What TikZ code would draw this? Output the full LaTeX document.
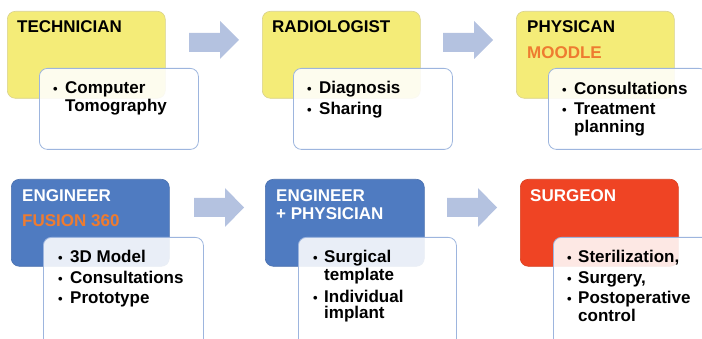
\documentclass[tikz,border=0pt]{standalone}
\usepackage{fontspec}
\setmainfont{Liberation Sans}
\definecolor{ybox}{HTML}{F4EC78}
\definecolor{yedge}{HTML}{D8D18C}
\definecolor{bbox}{HTML}{4F7BC1}
\definecolor{bedge}{HTML}{4A70AE}
\definecolor{rbox}{HTML}{EF4424}
\definecolor{redge}{HTML}{D8401F}
\definecolor{otext}{HTML}{EE7B30}
\definecolor{arr}{HTML}{B4C2E0}
\definecolor{cedge}{HTML}{9DB5DE}
\begin{document}
\begin{tikzpicture}[x=1pt,y=-1pt,
  rolebox/.style={anchor=north west, rounded corners=8pt, minimum height=87pt, line width=0.6pt, inner sep=0pt},
  yrole/.style={rolebox, fill=ybox, draw=yedge},
  brole/.style={rolebox, fill=bbox, draw=bedge},
  rrole/.style={rolebox, fill=rbox, draw=redge},
  card/.style={anchor=north west, rounded corners=8pt, fill=white, fill opacity=0.88, draw=cedge, draw opacity=1, line width=0.8pt, inner sep=0pt, minimum height=81pt},
  hd/.style={anchor=base west, inner sep=0pt, font=\fontsize{17}{18}\selectfont\bfseries},
  tx/.style={anchor=base west, inner sep=0pt, font=\fontsize{17}{18}\selectfont\bfseries, text=black},
  bu/.style={anchor=base west, inner sep=0pt, font=\fontsize{13}{14}\selectfont\bfseries, text=black},
  blockarrow/.style={fill=arr}
]
\useasboundingbox (0,0) rectangle (702,339);
\clip (0,0) rectangle (702,339);

% role boxes
\node[yrole, minimum width=158pt] (b1) at (7,11) {};
\node[yrole, minimum width=158pt] (b2) at (262,11) {};
\node[yrole, minimum width=158pt] (b3) at (516,11) {};
\node[brole, minimum width=158pt] (b4) at (11,179) {};
\node[brole, minimum width=159pt] (b5) at (265,179) {};
\node[rrole, minimum width=158pt] (b6) at (520,179) {};

% headers
\node[hd] (h1) at (17,33) {TECHNICIAN};
\node[hd] (h2) at (272,33) {RADIOLOGIST};
\node[hd] (h3) at (527,33) {PHYSICAN};
\node[hd, text=otext] (h3b) at (527,59) {MOODLE};
\node[hd, text=white] (h4) at (22,202) {ENGINEER};
\node[hd, text=otext] (h4b) at (22,227) {FUSION 360};
\node[hd, text=white] (h5) at (276,202) {ENGINEER};
\node[hd, text=white] (h5b) at (276,220) {+ PHYSICIAN};
\node[hd, text=white] (h6) at (530,202) {SURGEON};

% cards
\node[card, minimum width=159pt] (c1) at (39,68) {};
\node[card, minimum width=159pt] (c2) at (293,68) {};
\node[card, minimum width=159pt] (c3) at (548,68) {};
\node[card, minimum width=160pt, minimum height=110pt] (c4) at (43,237) {};
\node[card, minimum width=158pt, minimum height=110pt] (c5) at (298,237) {};
\node[card, minimum width=159pt, minimum height=110pt] (c6) at (553,237) {};

% card 1
\node[bu] (d1a) at (53,94) {•};
\node[tx] (t1a) at (65,94) {Computer};
\node[tx] (t1b) at (65,112) {Tomography};
% card 2
\node[bu] (d2a) at (307,94) {•};
\node[tx] (t2a) at (319,94) {Diagnosis};
\node[bu] (d2b) at (307,115) {•};
\node[tx] (t2b) at (319,115) {Sharing};
% card 3
\node[bu] (d3a) at (562,95) {•};
\node[tx] (t3a) at (574,95) {Consultations};
\node[bu] (d3b) at (562,115) {•};
\node[tx] (t3b) at (574,115) {Treatment};
\node[tx] (t3c) at (574,133) {planning};
% card 4
\node[bu] (d4a) at (58,263) {•};
\node[tx] (t4a) at (70,263) {3D Model};
\node[bu] (d4b) at (58,284) {•};
\node[tx] (t4b) at (70,284) {Consultations};
\node[bu] (d4c) at (58,304) {•};
\node[tx] (t4c) at (70,304) {Prototype};
% card 5
\node[bu] (d5a) at (313,263) {•};
\node[tx] (t5a) at (324,263) {Surgical};
\node[tx] (t5b) at (324,281) {template};
\node[bu] (d5c) at (313,302) {•};
\node[tx] (t5c) at (324,302) {Individual};
\node[tx] (t5d) at (324,319) {implant};
% card 6
\node[bu] (d6a) at (567,263) {•};
\node[tx] (t6a) at (578,263) {Sterilization,};
\node[bu] (d6b) at (567,284) {•};
\node[tx] (t6b) at (578,284) {Surgery,};
\node[bu] (d6c) at (567,304) {•};
\node[tx] (t6c) at (578,304) {Postoperative};
\node[tx] (t6d) at (578,322) {control};

% block arrows
\fill[blockarrow] (189,33) -- (220,33) -- (220,21) -- (239,40) -- (220,59) -- (220,52) -- (189,52) -- cycle;
\fill[blockarrow] (443,33) -- (474,33) -- (474,21) -- (493,40) -- (474,59) -- (474,52) -- (443,52) -- cycle;
\fill[blockarrow] (194,198) -- (225,198) -- (225,188) -- (244,207.5) -- (225,227) -- (225,217) -- (194,217) -- cycle;
\fill[blockarrow] (447,198) -- (478,198) -- (478,188) -- (497,207.5) -- (478,227) -- (478,217) -- (447,217) -- cycle;
\end{tikzpicture}
\end{document}
